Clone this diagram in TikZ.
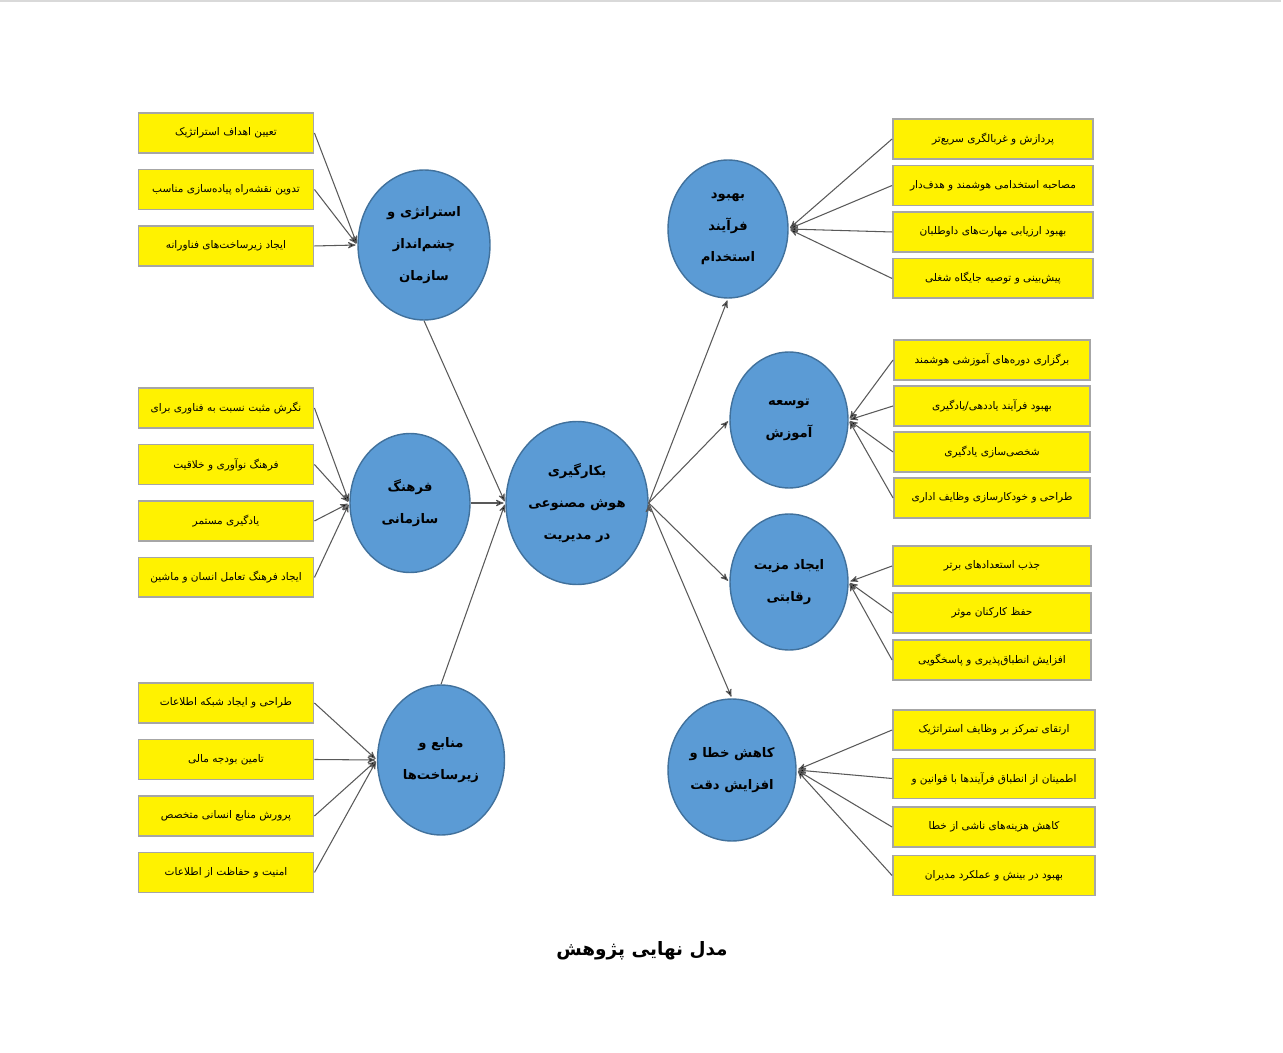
\documentclass[tikz,border=0pt]{standalone}
\usepackage{fontspec}
\newfontfamily\farsi[Script=Arabic]{DejaVu Sans}
\TeXXeTstate=1
\newcommand{\fa}[1]{\beginR #1\endR}
\usetikzlibrary{shapes,arrows}
\usetikzlibrary{positioning}
\definecolor{hubblue}{HTML}{5B9BD5}
\definecolor{hubedge}{HTML}{41719C}
\definecolor{boxedge}{HTML}{A6A6A6}
\definecolor{linkgray}{HTML}{595959}
\tikzset{
    hub/.style={
           ellipse,
           draw=hubedge, line width=0.8pt,
           fill=hubblue,
           inner sep=0pt,
           align=center,
           font=\farsi\bfseries\fontsize{7.5}{18}\selectfont
           },
    item/.style={
           rectangle,
           draw=boxedge, line width=1.1pt,
           fill=yellow,
           minimum width=3.5cm,
           minimum height=0.8cm,
           font=\farsi\fontsize{6}{7}\selectfont
           },
    link/.style={
           draw=linkgray, line width=0.6pt
           }
}
\begin{document}
\begin{tikzpicture}[x=0.02cm, y=-0.02cm, shorten >=1pt, >=stealth', node distance=1.13cm, on grid]
\useasboundingbox (0,0) rectangle (1283,1053);
\draw[gray!30, line width=1pt] (0,1) -- (1283,1);
% hubs
   \node[hub, minimum width=2.84cm, minimum height=3.26cm] (core) at (577,503) {\fa{بکارگیری}\\\fa{هوش مصنوعی}\\\fa{در مدیریت}};
   \node[hub, minimum width=2.64cm, minimum height=3.0cm] (strat) at (424,245) {\fa{استراتژی و}\\\fa{چشم‌انداز}\\\fa{سازمان}};
   \node[hub, minimum width=2.4cm, minimum height=2.78cm] (cult) at (410,503) {\fa{فرهنگ}\\\fa{سازمانی}};
   \node[hub, minimum width=2.54cm, minimum height=3.0cm] (res) at (441,760) {\fa{منابع و}\\\fa{زیرساخت‌ها}};
   \node[hub, minimum width=2.4cm, minimum height=2.76cm] (hire) at (728,229) {\fa{بهبود}\\\fa{فرآیند}\\\fa{استخدام}};
   \node[hub, minimum width=2.36cm, minimum height=2.72cm] (train) at (789,420) {\fa{توسعه}\\\fa{آموزش}};
   \node[hub, minimum width=2.36cm, minimum height=2.72cm] (compet) at (789,582) {\fa{ایجاد مزیت}\\\fa{رقابتی}};
   \node[hub, minimum width=2.56cm, minimum height=2.84cm] (err) at (732,770) {\fa{کاهش خطا و}\\\fa{افزایش دقت}};
% left boxes
   \node[item] (s1) at (226,133) {\fa{تعیین اهداف استراتژیک}};
   \node[item] (s2)[below=of s1] {\fa{تدوین نقشه‌راه پیاده‌سازی مناسب}};
   \node[item] (s3)[below=of s2] {\fa{ایجاد زیرساخت‌های فناورانه}};
   \node[item] (c1) at (226,408) {\fa{نگرش مثبت نسبت به فناوری برای}};
   \node[item] (c2)[below=of c1] {\fa{فرهنگ نوآوری و خلاقیت}};
   \node[item] (c3)[below=of c2] {\fa{یادگیری مستمر}};
   \node[item] (c4)[below=of c3] {\fa{ایجاد فرهنگ تعامل انسان و ماشین}};
   \node[item] (m1) at (226,703) {\fa{طراحی و ایجاد شبکه اطلاعات}};
   \node[item] (m2)[below=of m1] {\fa{تامین بودجه مالی}};
   \node[item] (m3)[below=of m2] {\fa{پرورش منابع انسانی متخصص}};
   \node[item] (m4)[below=of m3] {\fa{امنیت و حفاظت از اطلاعات}};
% right boxes
   \node[item, minimum width=4cm] (h1) at (993,139) {\fa{پردازش و غربالگری سریع‌تر}};
   \node[item, minimum width=4cm] (h2)[below=0.93cm of h1] {\fa{مصاحبه استخدامی هوشمند و هدف‌دار}};
   \node[item, minimum width=4cm] (h3)[below=0.93cm of h2] {\fa{بهبود ارزیابی مهارت‌های داوطلبان}};
   \node[item, minimum width=4cm] (h4)[below=0.93cm of h3] {\fa{پیش‌بینی و توصیه جایگاه شغلی}};
   \node[item, minimum width=3.92cm] (t1) at (992,360) {\fa{برگزاری دوره‌های آموزشی هوشمند}};
   \node[item, minimum width=3.92cm] (t2)[below=0.92cm of t1] {\fa{بهبود فرآیند یاددهی/یادگیری}};
   \node[item, minimum width=3.92cm] (t3)[below=0.92cm of t2] {\fa{شخصی‌سازی یادگیری}};
   \node[item, minimum width=3.92cm] (t4)[below=0.92cm of t3] {\fa{طراحی و خودکارسازی وظایف اداری}};
   \node[item, minimum width=3.96cm] (k1) at (992,566) {\fa{جذب استعدادهای برتر}};
   \node[item, minimum width=3.96cm] (k2)[below=0.94cm of k1] {\fa{حفظ کارکنان موثر}};
   \node[item, minimum width=3.96cm] (k3)[below=0.94cm of k2] {\fa{افزایش انطباق‌پذیری و پاسخگویی}};
   \node[item, minimum width=4.04cm] (e1) at (994,730) {\fa{ارتقای تمرکز بر وظایف استراتژیک}};
   \node[item, minimum width=4.04cm] (e2)[below=0.97cm of e1] {\fa{اطمینان از انطباق فرآیندها با قوانین و}};
   \node[item, minimum width=4.04cm] (e3)[below=0.97cm of e2] {\fa{کاهش هزینه‌های ناشی از خطا}};
   \node[item, minimum width=4.04cm] (e4)[below=0.97cm of e3] {\fa{بهبود در بینش و عملکرد مدیران}};
% caption
   \node[font=\farsi\bfseries\fontsize{10.5}{13}\selectfont] (title) at (642,951) {\fa{مدل نهایی پژوهش}};
% links
   \path[->, link]
    (s1.east) edge (strat.west)
    (s2.east) edge (strat.west)
    (s3.east) edge (strat.west)
    (c1.east) edge (cult.west)
    (c2.east) edge (cult.west)
    (c3.east) edge (cult.west)
    (c4.east) edge (cult.west)
    (m1.east) edge (res.west)
    (m2.east) edge (res.west)
    (m3.east) edge (res.west)
    (m4.east) edge (res.west)
    (h1.west) edge (hire.east)
    (h2.west) edge (hire.east)
    (h3.west) edge (hire.east)
    (h4.west) edge (hire.east)
    (t1.west) edge (train.east)
    (t2.west) edge (train.east)
    (t3.west) edge (train.east)
    (t4.west) edge (train.east)
    (k1.west) edge (compet.east)
    (k2.west) edge (compet.east)
    (k3.west) edge (compet.east)
    (e1.west) edge (err.east)
    (e2.west) edge (err.east)
    (e3.west) edge (err.east)
    (e4.west) edge (err.east)
    (strat.south) edge (core.west)
    (cult.east) edge (core.west)
    (res.north) edge (core.west)
    (core.east) edge (hire.south)
    (core.east) edge (train.west)
    (core.east) edge (compet.west)
    (core.east) edge (err.north);
\end{tikzpicture}
\end{document}
